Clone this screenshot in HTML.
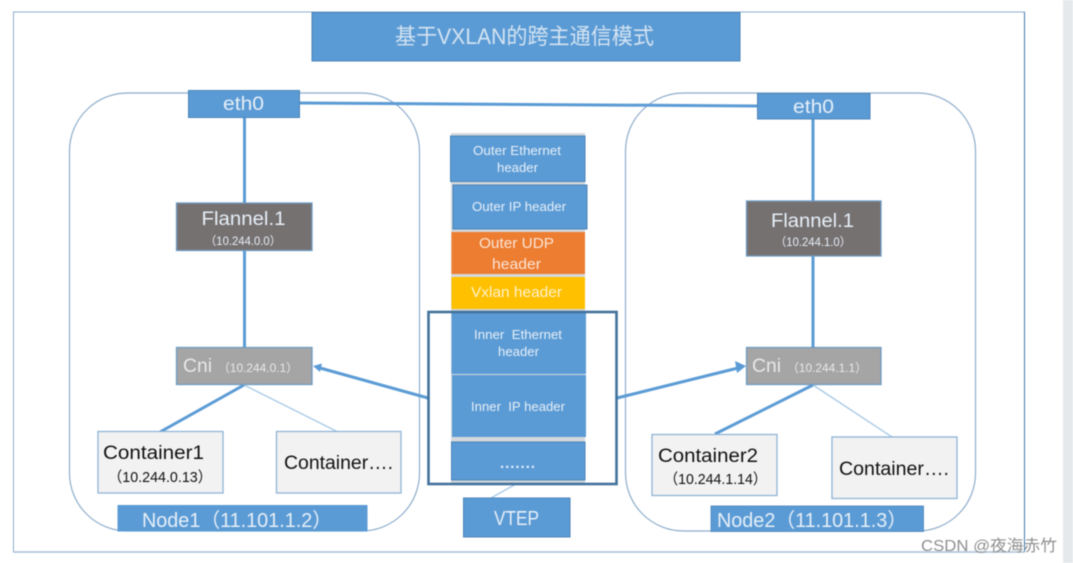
<!DOCTYPE html>
<html lang="zh"><head><meta charset="utf-8"><title>基于VXLAN的跨主通信模式</title>
<style>
html,body{margin:0;padding:0;background:#fff;width:1073px;height:563px;overflow:hidden}
svg{display:block;position:absolute;left:0;top:0}
#d{filter:blur(.5px)}
text{font-family:"Liberation Sans","Noto Sans CJK SC",sans-serif;fill:#e6eff8}
.k{fill:#111}
.b{fill:#5b9bd5;stroke:#4a84b8;stroke-width:1}
.g{fill:#f2f2f2;stroke:#8fb4d6;stroke-width:1.3}
.gr{fill:#a5a5a5;stroke:#6f9cc4;stroke-width:1.3}
.dk{fill:#767171;stroke:#6f9cc4;stroke-width:1.3}
.r{fill:#fff;stroke:#8eadcc;stroke-width:1.2}
.l{stroke:#5b9bd5;stroke-width:3;fill:none}
</style></head><body>
<svg id="d" width="1073" height="563" viewBox="0 0 1073 563" xmlns="http://www.w3.org/2000/svg">
<rect x="1063" y="0" width="10" height="563" fill="#e6e9ec"/>
<rect x="13.5" y="12" width="1011" height="540" fill="#fff" stroke="#8eadcc" stroke-width="1"/>
<line x1="1024.5" y1="12" x2="1024.5" y2="552" stroke="#3f78ad" stroke-width="1"/>
<line x1="13.5" y1="552" x2="1024.5" y2="552" stroke="#a9c0d8" stroke-width="1.6"/>

<rect class="b" x="312" y="12.5" width="428" height="48.5"/>
<text x="395" y="44" font-size="22" textLength="259" lengthAdjust="spacingAndGlyphs" style="fill:#d3e3f2">基于VXLAN的跨主通信模式</text>

<rect class="r" x="69.5" y="93" width="350" height="438" rx="58" ry="58"/>
<rect class="r" x="625.5" y="93" width="350" height="438" rx="58" ry="58"/>

<line class="l" x1="300" y1="103" x2="757.5" y2="106"/>
<line class="l" x1="244.5" y1="117" x2="244.5" y2="348"/>
<line class="l" x1="813" y1="119" x2="813" y2="348"/>
<line class="l" x1="244" y1="385" x2="160" y2="432"/>
<line x1="244" y1="385" x2="337" y2="431.5" stroke="#a9cbe8" stroke-width="1.4"/>
<line class="l" x1="813" y1="385" x2="715" y2="434"/>
<line x1="813" y1="385" x2="892" y2="437" stroke="#a9cbe8" stroke-width="1.4"/>
<line x1="516" y1="484" x2="491" y2="498" stroke="#a9cbe8" stroke-width="1.4"/>

<line class="l" x1="428" y1="398" x2="320" y2="368"/>
<polygon points="313,366 322,363.5 320,372" fill="#5b9bd5"/>
<line class="l" x1="617" y1="398" x2="738" y2="368"/>
<polygon points="746,366 735,361 737,373" fill="#5b9bd5"/>

<rect class="b" x="188.5" y="90.5" width="111" height="27"/>
<text x="223" y="110" font-size="19" textLength="41" lengthAdjust="spacingAndGlyphs">eth0</text>
<rect class="dk" x="176.5" y="203" width="135.5" height="47.5"/>
<text x="201.5" y="225" font-size="19" textLength="84" lengthAdjust="spacingAndGlyphs">Flannel.1</text>
<text x="205" y="245" font-size="11.5" textLength="76" lengthAdjust="spacingAndGlyphs">（10.244.0.0）</text>
<rect class="gr" x="176.5" y="347.5" width="135.5" height="37"/>
<text x="183" y="372" font-size="19" textLength="29" lengthAdjust="spacingAndGlyphs" style="fill:#e8e8e8">Cni</text>
<text x="218" y="372" font-size="12" textLength="80" lengthAdjust="spacingAndGlyphs" style="fill:#e8e8e8">（10.244.0.1）</text>
<rect class="g" x="98" y="431.5" width="125" height="61.5"/>
<text class="k" x="103" y="459" font-size="19" textLength="101" lengthAdjust="spacingAndGlyphs">Container1</text>
<text class="k" x="108" y="482" font-size="15" textLength="104" lengthAdjust="spacingAndGlyphs">（10.244.0.13）</text>
<rect class="g" x="276.5" y="431.5" width="124.5" height="61.5"/>
<text class="k" x="284" y="469" font-size="19" textLength="109" lengthAdjust="spacingAndGlyphs">Container….</text>
<rect x="117.5" y="505" width="250" height="26.5" fill="#5b9bd5"/>
<text x="142" y="527" font-size="20" textLength="190" lengthAdjust="spacingAndGlyphs">Node1（11.101.1.2）</text>

<rect class="b" x="757.5" y="93.5" width="112.5" height="25.5"/>
<text x="793" y="113" font-size="19" textLength="41" lengthAdjust="spacingAndGlyphs">eth0</text>
<rect class="dk" x="746.5" y="201" width="134.5" height="55"/>
<text x="771" y="227" font-size="19" textLength="83" lengthAdjust="spacingAndGlyphs">Flannel.1</text>
<text x="775" y="246" font-size="11.5" textLength="76" lengthAdjust="spacingAndGlyphs">（10.244.1.0）</text>
<rect class="gr" x="746.5" y="347.5" width="134.5" height="37"/>
<text x="752" y="372" font-size="19" textLength="29" lengthAdjust="spacingAndGlyphs" style="fill:#e8e8e8">Cni</text>
<text x="787" y="372" font-size="12" textLength="80" lengthAdjust="spacingAndGlyphs" style="fill:#e8e8e8">（10.244.1.1）</text>
<rect class="g" x="652" y="434.5" width="125" height="61"/>
<text class="k" x="658" y="462" font-size="19" textLength="100" lengthAdjust="spacingAndGlyphs">Container2</text>
<text class="k" x="664" y="484" font-size="15" textLength="103" lengthAdjust="spacingAndGlyphs">（10.244.1.14）</text>
<rect class="g" x="832" y="437" width="125" height="61.5"/>
<text class="k" x="839" y="475" font-size="19" textLength="110" lengthAdjust="spacingAndGlyphs">Container….</text>
<rect x="711" y="506" width="212.5" height="25.5" fill="#5b9bd5" stroke="#4a84b8" stroke-width=".8"/>
<text x="717" y="527" font-size="20" textLength="190" lengthAdjust="spacingAndGlyphs">Node2（11.101.1.3）</text>

<rect x="451" y="133" width="134" height="351" fill="#d4d8dc"/>
<rect class="b" x="450.5" y="136" width="134.5" height="45.5"/>
<text x="473" y="155" font-size="13" textLength="88" lengthAdjust="spacingAndGlyphs">Outer Ethernet</text>
<text x="497" y="172" font-size="13" textLength="41" lengthAdjust="spacingAndGlyphs">header</text>
<rect class="b" x="453" y="185" width="134" height="44"/>
<text x="472" y="211" font-size="13" textLength="94" lengthAdjust="spacingAndGlyphs">Outer IP header</text>
<rect x="451.5" y="232" width="133.5" height="42" fill="#ed7d31"/>
<text x="479" y="248" font-size="15" textLength="75" lengthAdjust="spacingAndGlyphs" style="fill:#fbe5d6">Outer UDP</text>
<text x="492" y="269" font-size="15" textLength="49" lengthAdjust="spacingAndGlyphs" style="fill:#fbe5d6">header</text>
<rect x="451.5" y="277" width="133.5" height="32" fill="#ffc000"/>
<text x="471" y="297" font-size="15" textLength="91" lengthAdjust="spacingAndGlyphs" style="fill:#fff2cc">Vxlan header</text>
<rect x="451.5" y="312" width="134.5" height="62" fill="#5b9bd5"/>
<text x="474" y="339" font-size="13" textLength="88" lengthAdjust="spacingAndGlyphs" xml:space="preserve">Inner  Ethernet</text>
<text x="498" y="356" font-size="13" textLength="41" lengthAdjust="spacingAndGlyphs">header</text>
<rect x="452" y="375" width="134" height="62" fill="#5b9bd5"/>
<text x="471" y="411" font-size="13" textLength="94" lengthAdjust="spacingAndGlyphs" xml:space="preserve">Inner  IP header</text>
<rect class="b" x="451.5" y="442" width="133.5" height="38"/>
<text x="500" y="468" font-size="15" textLength="35" lengthAdjust="spacing" font-weight="bold">.......</text>
<rect x="428.5" y="312" width="188" height="172" fill="none" stroke="#41719c" stroke-width="2.6"/>

<rect class="b" x="463.5" y="498" width="106.5" height="39"/>
<text x="494" y="525" font-size="20" textLength="45" lengthAdjust="spacingAndGlyphs">VTEP</text>
<text x="921" y="551" font-size="16" textLength="136" lengthAdjust="spacingAndGlyphs" style="fill:#8f8f8f">CSDN @夜海赤竹</text>
</svg>
</body></html>
